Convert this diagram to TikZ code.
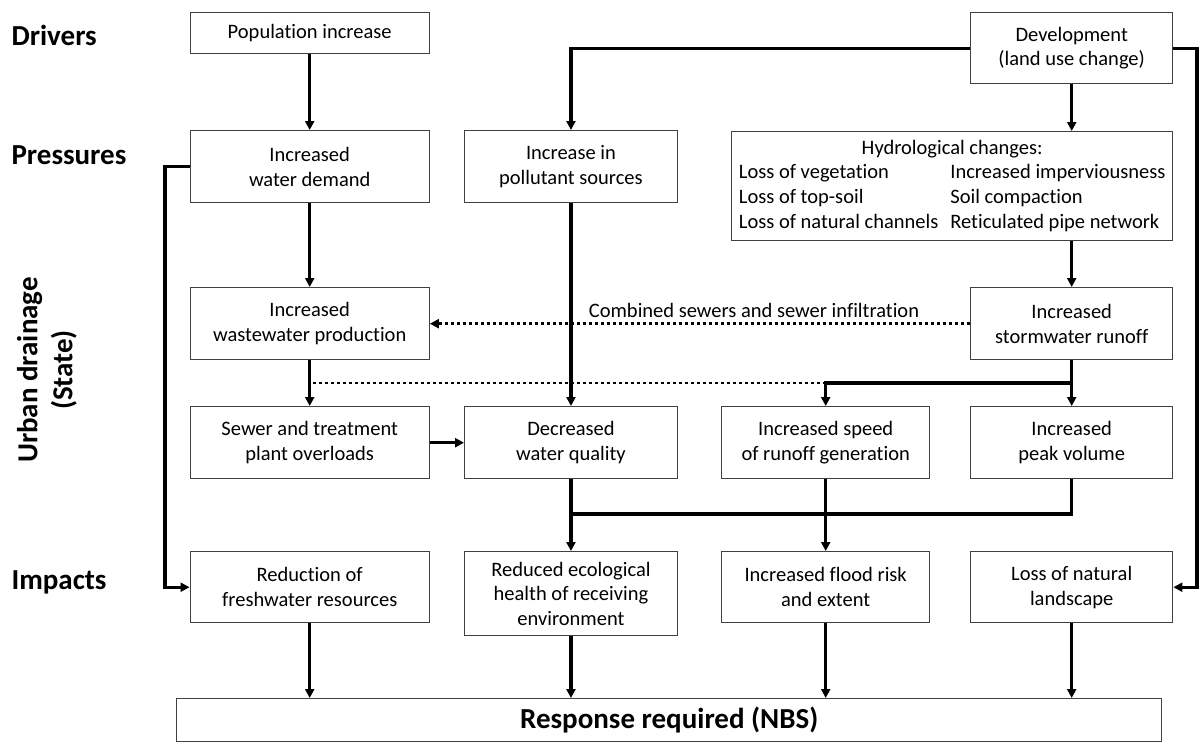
\documentclass[tikz,border=0pt]{standalone}
\usepackage{fontspec}
\setmainfont{Carlito}[Ligatures=CommonOff]
\usetikzlibrary{positioning,arrows.meta}

\tikzset{
  box/.style={rectangle, draw=black!75, line width=1.4pt, align=center, anchor=north west, inner sep=0pt, font=\fontsize{20.5}{24.7}\selectfont},
  head/.style={font=\fontsize{29}{35}\selectfont\bfseries},
  plain/.style={line width=3.1pt},
  link/.style={plain, -{Triangle[length=9pt,width=9pt]}},
  dotlink/.style={line width=2.8pt, dash pattern=on 2.6pt off 3.4pt}
}

\begin{document}
\begin{tikzpicture}[x=1pt,y=-1pt]
\useasboundingbox (0,0) rectangle (1199,742);

\node (drv) [head, anchor=west] at (8,35) {Drivers};
\node (prs) [head, anchor=west] at (8,155) {Pressures};
\node (state) [head, rotate=90, align=center] at (47,370) {Urban drainage\\(State)};
\node (imp) [head, anchor=west] at (8,582) {Impacts};

\node (pop) [box, minimum width=239pt, minimum height=41pt] at (189.5,12) {Population increase};
\node (dev) [box, minimum width=202pt, minimum height=71pt] at (970,12) {Development\\(land use change)};

\node (demand) [box, minimum width=239pt, minimum height=72pt] at (189.5,130) {Increased\\water demand};
\node (pollut) [box, minimum width=212.5pt, minimum height=72pt] at (464,130) {Increase in\\pollutant sources};
\node (hydro) [box, minimum width=441pt, minimum height=109pt] at (731,131) {\begin{tabular}{@{}l@{\hspace{12pt}}l@{}}
\multicolumn{2}{c}{Hydrological changes:}\\
Loss of vegetation & Increased imperviousness\\
Loss of top-soil & Soil compaction\\
Loss of natural channels & Reticulated pipe network
\end{tabular}};

\node (waste) [box, minimum width=239pt, minimum height=72pt] at (189.5,287) {Increased\\wastewater production};
\node (storm) [box, minimum width=202pt, minimum height=72pt] at (970,287) {Increased\\stormwater runoff};

\node (sewer) [box, minimum width=239pt, minimum height=72pt] at (189.5,406) {Sewer and treatment\\plant overloads};
\node (quality) [box, minimum width=212.5pt, minimum height=72pt] at (464,406) {Decreased\\water quality};
\node (speed) [box, minimum width=208pt, minimum height=72pt] at (721,406) {Increased speed\\of runoff generation};
\node (peak) [box, minimum width=202pt, minimum height=72pt] at (970,406) {Increased\\peak volume};

\node (fresh) [box, minimum width=239pt, minimum height=71pt] at (189.5,551) {Reduction of\\freshwater resources};
\node (eco) [box, minimum width=212.5pt, minimum height=84pt] at (464,551) {Reduced ecological\\health of receiving\\environment};
\node (flood) [box, minimum width=208pt, minimum height=71pt] at (721,551) {Increased flood risk\\and extent};
\node (land) [box, minimum width=202pt, minimum height=71pt] at (970,551) {Loss of natural\\landscape};

\node (resp) [box, minimum width=985pt, minimum height=43pt, font=\fontsize{29}{35}\selectfont\bfseries] at (176,698) {Response required (NBS)};

% drivers to pressures
\coordinate (lft) at (165,0);
\coordinate (rgt) at (1197,0);
\draw[link] (pop) -- (demand);
\draw[link] (dev.west) -| (pollut.north);
\draw[link] (dev.south) -- (dev.south |- hydro.north);
\draw[link] (dev.east) -| (rgt |- land.east) -- (land.east);

% pressures to state
\draw[link] (demand) -- (waste);
\draw[link] (demand.west) -| (lft |- fresh.west) -- (fresh.west);
\draw[link] (hydro.south -| storm) -- (storm.north);
\draw[dotlink, -{Triangle[length=9pt,width=9pt]}] (storm.west) -- node[pos=0.4, above=1pt, font=\fontsize{20.5}{24.7}\selectfont] {Combined sewers and sewer infiltration} (waste.east);

\coordinate (jn) at (1071,383);
\draw[link] (pollut) -- (quality);
\draw[link] (waste) -- (sewer);
\draw[link] (storm) -- (peak);
\draw[link] (jn) -| (speed.north);
\draw[dotlink] (speed.north |- jn) -- (waste.south |- jn);
\draw[link] (sewer) -- (quality);

% state to impacts
\coordinate (mg) at (0,514);
\draw[link] (quality) -- (eco);
\draw[link] (speed) -- (flood);
\draw[plain] (peak.south) |- (quality.south |- mg);

% impacts to response
\draw[link] (fresh.south) -- (fresh.south |- resp.north);
\draw[link] (eco.south) -- (eco.south |- resp.north);
\draw[link] (flood.south) -- (flood.south |- resp.north);
\draw[link] (land.south) -- (land.south |- resp.north);
\end{tikzpicture}
\end{document}
